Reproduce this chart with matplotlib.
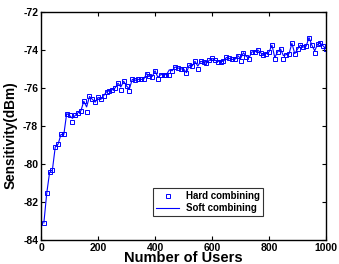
import numpy as np
import matplotlib
matplotlib.use("Agg")
from matplotlib import pyplot as plt

# number of users
users = np.arange(10, 1001, 10)

# soft combining sensitivity (dBm)
soft = [-83.1, -81.55, -80.45, -80.3, -79.1, -78.95, -78.45, -78.45, -77.35, -77.45,
        -77.6, -77.45, -77.3, -77.2, -76.7, -77.0, -76.45, -76.6, -76.75, -76.5,
        -76.6, -76.4, -76.2, -76.15, -76.1, -76.0, -75.75, -75.95, -75.65, -75.9,
        -76.05, -75.55, -75.6, -75.55, -75.55, -75.55, -75.25, -75.35, -75.4, -75.1,
        -75.45, -75.3, -75.3, -75.3, -75.05, -75.1, -74.9, -74.95, -75.0, -75.0,
        -75.2, -74.8, -74.85, -74.6, -74.85, -74.6, -74.65, -74.7, -74.55, -74.45,
        -74.55, -74.6, -74.6, -74.6, -74.4, -74.45, -74.5, -74.5, -74.3, -74.45,
        -74.15, -74.35, -74.4, -74.1, -74.1, -74.0, -74.15, -74.25, -74.2, -74.1,
        -73.75, -74.4, -74.1, -73.95, -74.3, -74.25, -74.2, -73.65, -74.2, -73.95,
        -73.75, -73.85, -73.8, -73.35, -73.75, -74.05, -73.7, -73.65, -73.8, -73.95]

# hard combining: same as soft except where squares sit a bit lower
hard = list(soft)
hard_lower = {110: -77.8, 160: -77.25, 280: -76.1, 310: -76.15, 410: -75.55,
              450: -75.3, 550: -75.0, 620: -74.65, 630: -74.65, 700: -74.6,
              730: -74.5, 820: -74.5, 850: -74.5, 960: -74.15}
for u, v in hard_lower.items():
    hard[u // 10 - 1] = v

plt.rcParams['font.family'] = ['Liberation Sans', 'DejaVu Sans']
plt.rcParams['font.weight'] = 'bold'
plt.rcParams['axes.unicode_minus'] = False

fig = plt.figure(figsize=(3.39, 2.64), dpi=100)
ax = fig.add_axes([0.121, 0.091, 0.841, 0.864])

ax.plot(users, hard, linestyle='none', marker='s', markersize=2.2,
        markerfacecolor='none', markeredgecolor='blue', markeredgewidth=0.7,
        label='Hard combining')
ax.plot(users, soft, color='blue', linewidth=0.8, label='Soft combining')

ax.set_xlim(0, 1000)
ax.set_ylim(-84, -72)
ax.set_xticks(np.arange(0, 1001, 200))
ax.set_yticks(np.arange(-84, -71, 2))
ax.tick_params(direction='in', length=3, width=0.8, labelsize=7.5,
               top=True, right=True, pad=2)
for lab in ax.get_xticklabels() + ax.get_yticklabels():
    lab.set_fontweight('bold')
for s in ax.spines.values():
    s.set_linewidth(1.0)

ax.set_xlabel('Number of Users', fontsize=10.5, fontweight='bold', labelpad=-1)
ax.set_ylabel('Sensitivity(dBm)', fontsize=9.8, fontweight='bold')
ax.yaxis.set_label_coords(-0.084, 0.46)

leg = ax.legend(loc='lower left', bbox_to_anchor=(0.393, 0.105), fontsize=7,
                frameon=True, fancybox=False, edgecolor='black',
                handlelength=2.4, borderpad=0.3, labelspacing=0.2,
                handletextpad=0.7, borderaxespad=0)
leg.get_frame().set_linewidth(0.8)
for t in leg.get_texts():
    t.set_fontweight('bold')

fig.savefig('out.png', dpi=100)
